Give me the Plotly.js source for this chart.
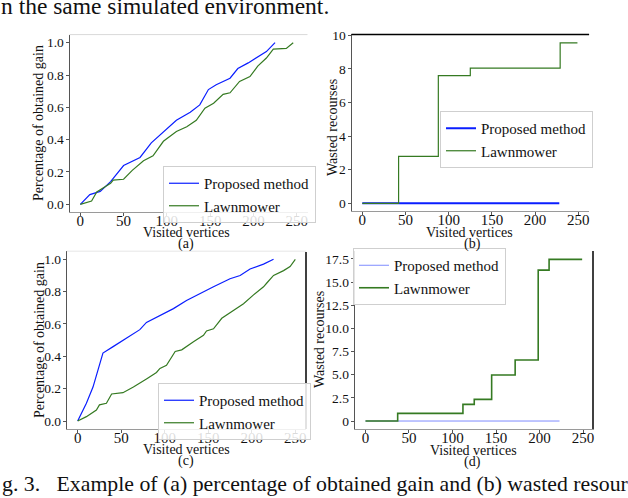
<!DOCTYPE html>
<html>
<head>
<meta charset="utf-8">
<script src="https://cdn.plot.ly/plotly-3.0.1.min.js"></script>
<style>html,body{margin:0;padding:0;background:#fff;}#chart{width:628px;height:498px;}</style>
</head>
<body>
<div id="chart"></div>
<script>
// ---- data ----
// (a) percentage of obtained gain
const aProposedX = [0, 11, 23, 35, 50, 69, 82, 100, 111, 127, 138, 148, 157, 173, 182, 194, 203, 215, 225];
const aProposedY = [0, 0.06, 0.08, 0.14, 0.24, 0.29, 0.38, 0.47, 0.52, 0.57, 0.615, 0.71, 0.74, 0.78, 0.84, 0.875, 0.905, 0.945, 1.0];
const aLawnX = [0, 13, 19, 35, 38, 50, 60, 73, 84, 96, 111, 123, 134, 144, 154, 165, 173, 184, 196, 205, 215, 223, 238, 246];
const aLawnY = [0, 0.02, 0.076, 0.13, 0.15, 0.155, 0.21, 0.27, 0.30, 0.39, 0.45, 0.48, 0.52, 0.595, 0.625, 0.68, 0.69, 0.76, 0.79, 0.855, 0.905, 0.96, 0.965, 1.0];
// (b) wasted resources
const bProposedX = [0, 228];
const bProposedY = [0, 0];
const bLawnX = [0, 42, 88, 125, 229, 249];
const bLawnY = [0, 2.8, 7.6, 8.05, 9.55, 9.55];
// (c) percentage of obtained gain
const cProposedX = [0, 10, 17.6, 29, 40.7, 56, 71.4, 79, 94.5, 110, 125, 140.5, 156, 175, 186.6, 198, 213.5, 225];
const cProposedY = [0, 0.11, 0.21, 0.42, 0.46, 0.51, 0.565, 0.61, 0.65, 0.695, 0.745, 0.79, 0.83, 0.88, 0.9, 0.94, 0.97, 1.0];
const cLawnX = [0, 10, 21.5, 25, 33, 39, 52, 64, 79, 90.5, 94.5, 102, 112, 119.5, 133, 144.5, 148, 156, 165.5, 179, 190.5, 202, 213.5, 217.5, 225, 236.5, 244, 250];
const cLawnY = [0, 0.027, 0.068, 0.1, 0.11, 0.167, 0.175, 0.21, 0.26, 0.30, 0.325, 0.345, 0.43, 0.44, 0.49, 0.53, 0.557, 0.57, 0.635, 0.685, 0.725, 0.78, 0.83, 0.855, 0.9, 0.93, 0.955, 1.0];
// (d) wasted resources
const dProposedX = [0, 223];
const dProposedY = [0, 0];
const dLawnX = [0, 37, 112, 125, 145, 172, 198.5, 211, 249];
const dLawnY = [0, 0.83, 1.8, 2.34, 4.97, 6.59, 16.3, 17.46, 17.46];

const xTicks = [0, 50, 100, 150, 200, 250];
const gainTicks = [0, 0.2, 0.4, 0.6, 0.8, 1.0];
const gainTickText = ['0.0', '0.2', '0.4', '0.6', '0.8', '1.0'];
const bTicks = [0, 2, 4, 6, 8, 10];
const bTickText = ['0', '2', '4', '6', '8', '10'];
const dTicks = [0, 2.5, 5, 7.5, 10, 12.5, 15, 17.5];
const dTickText = ['0', '2.5', '5.0', '7.5', '10.0', '12.5', '15.0', '17.5'];
const seriesNames = ['Proposed method', 'Lawnmower'];
const panelLabels = ['(a)', '(b)', '(c)', '(d)'];
const xTitle = 'Visited vertices';
const gainTitle = 'Percentage of obtained gain';
const wasteTitle = 'Wasted recourses';
const topText = 'n the same simulated environment.';
const captionText = 'g. 3.\u00a0\u00a0 Example of (a) percentage of obtained gain and (b) wasted resour';

// ---- layout helpers ----
const W = 628, H = 498;
const px = v => v / W;
const py = v => 1 - v / H;
const FONT = '"Liberation Serif", "Times New Roman", serif';
const BLUE = '#0a1eff';
const GREEN = '#357a22';

function xaxis(l, r, anchor) {
  return {domain: [px(l), px(r)], range: [-12.5, 262.5], anchor: anchor,
    tickvals: xTicks, ticks: 'outside', ticklen: 3, tickwidth: 1, tickcolor: '#555',
    ticklabelstandoff: -8,
    showgrid: false, zeroline: false, showline: true, linecolor: '#9a9a9a', linewidth: 1,
    tickfont: {family: FONT, size: 15, color: '#111'}, fixedrange: true};
}
function yaxis(t, b, range, tv, tt, anchor) {
  return {domain: [py(b), py(t)], range: range, anchor: anchor,
    tickvals: tv, ticktext: tt, ticks: 'outside', ticklen: 3, tickwidth: 1, tickcolor: '#555',
    ticklabelstandoff: -1,
    showgrid: false, zeroline: false, showline: true, linecolor: '#555', linewidth: 1,
    tickfont: {family: FONT, size: 13.5, color: '#111'}, fixedrange: true};
}

const traces = [
  {x: aProposedX, y: aProposedY, xaxis: 'x', yaxis: 'y', name: seriesNames[0], mode: 'lines', line: {color: BLUE, width: 1.2}, legend: 'legend'},
  {x: aLawnX, y: aLawnY, xaxis: 'x', yaxis: 'y', name: seriesNames[1], mode: 'lines', line: {color: GREEN, width: 1.2}, legend: 'legend'},
  {x: bProposedX, y: bProposedY, xaxis: 'x2', yaxis: 'y2', name: seriesNames[0], mode: 'lines', line: {color: BLUE, width: 2}, legend: 'legend2'},
  {x: bLawnX, y: bLawnY, xaxis: 'x2', yaxis: 'y2', name: seriesNames[1], mode: 'lines', line: {color: GREEN, width: 1.2, shape: 'hv'}, legend: 'legend2'},
  {x: cProposedX, y: cProposedY, xaxis: 'x3', yaxis: 'y3', name: seriesNames[0], mode: 'lines', line: {color: BLUE, width: 1.2}, legend: 'legend3'},
  {x: cLawnX, y: cLawnY, xaxis: 'x3', yaxis: 'y3', name: seriesNames[1], mode: 'lines', line: {color: GREEN, width: 1.2}, legend: 'legend3'},
  {x: dProposedX, y: dProposedY, xaxis: 'x4', yaxis: 'y4', name: seriesNames[0], mode: 'lines', line: {color: '#7f8cff', width: 1}, legend: 'legend4'},
  {x: dLawnX, y: dLawnY, xaxis: 'x4', yaxis: 'y4', name: seriesNames[1], mode: 'lines', line: {color: GREEN, width: 1.6, shape: 'hv'}, legend: 'legend4'}
];

function legend(l, t) {
  return {x: px(l), y: py(t), xanchor: 'left', yanchor: 'top', bgcolor: 'rgba(255,255,255,0.85)',
    bordercolor: '#cfcfcf', borderwidth: 1, font: {family: FONT, size: 15, color: '#111'},
    itemwidth: 30, tracegroupgap: 0};
}

function hline(x0, x1, y, color, width) {
  return {type: 'line', xref: 'paper', yref: 'paper', x0: px(x0), x1: px(x1), y0: py(y), y1: py(y), line: {color: color, width: width}};
}
function vline(x, y0, y1, color, width) {
  return {type: 'line', xref: 'paper', yref: 'paper', x0: px(x), x1: px(x), y0: py(y0), y1: py(y1), line: {color: color, width: width}};
}
function ann(text, x, y, size, xanchor, angle) {
  return {text: text, xref: 'paper', yref: 'paper', x: px(x), y: py(y), xanchor: xanchor || 'center', yanchor: 'middle',
    textangle: angle || 0, showarrow: false, font: {family: FONT, size: size, color: '#111'}};
}

const layout = {
  width: W, height: H, margin: {l: 0, r: 0, t: 0, b: 0},
  font: {family: FONT, size: 14, color: '#111'},
  paper_bgcolor: '#fff', plot_bgcolor: '#fff', showlegend: true,
  xaxis: xaxis(69.5, 307.5, 'y'),
  yaxis: yaxis(34.6, 212.4, [-0.05, 1.05], gainTicks, gainTickText, 'x'),
  xaxis2: xaxis(351.5, 589.1, 'y2'),
  yaxis2: yaxis(34, 211.4, [-0.48, 10.08], bTicks, bTickText, 'x2'),
  xaxis3: xaxis(66.8, 306.2, 'y3'),
  yaxis3: yaxis(251.2, 429.1, [-0.05, 1.05], gainTicks, gainTickText, 'x3'),
  xaxis4: xaxis(354.6, 593.9, 'y4'),
  yaxis4: yaxis(251.3, 429.1, [-0.873, 18.33], dTicks, dTickText, 'x4'),
  legend: legend(163, 166),
  legend2: legend(440, 111),
  legend3: legend(158, 383),
  legend4: legend(353, 248),
  shapes: [
    hline(69.5, 307.5, 34.6, '#d9d9d9', 1),
    hline(351.5, 589.1, 34.5, '#000', 1.5),
    hline(66.8, 306.2, 251.2, '#e6e6e6', 1),
    vline(306, 252, 429, '#000', 1.5),
    vline(593, 251, 429, '#000', 1.5)
  ],
  annotations: [
    ann(topText, -1, 6, 23.5, 'left'),
    ann(captionText, 0, 484, 21.8, 'left'),
    ann(gainTitle, 39, 123, 14, 'center', -90),
    ann(wasteTitle, 333, 128, 14, 'center', -90),
    ann(gainTitle, 39, 340, 14, 'center', -90),
    ann(wasteTitle, 319, 340, 14, 'center', -90),
    ann(xTitle, 186, 232, 14), ann(panelLabels[0], 186, 244, 14),
    ann(xTitle, 470, 232, 14), ann(panelLabels[1], 472, 244, 14),
    ann(xTitle, 186, 449, 14), ann(panelLabels[2], 186, 461, 14),
    ann(xTitle, 473, 450, 14), ann(panelLabels[3], 472, 462, 14)
  ]
};

Plotly.newPlot('chart', traces, layout, {displayModeBar: false, staticPlot: true});
</script>
</body>
</html>
